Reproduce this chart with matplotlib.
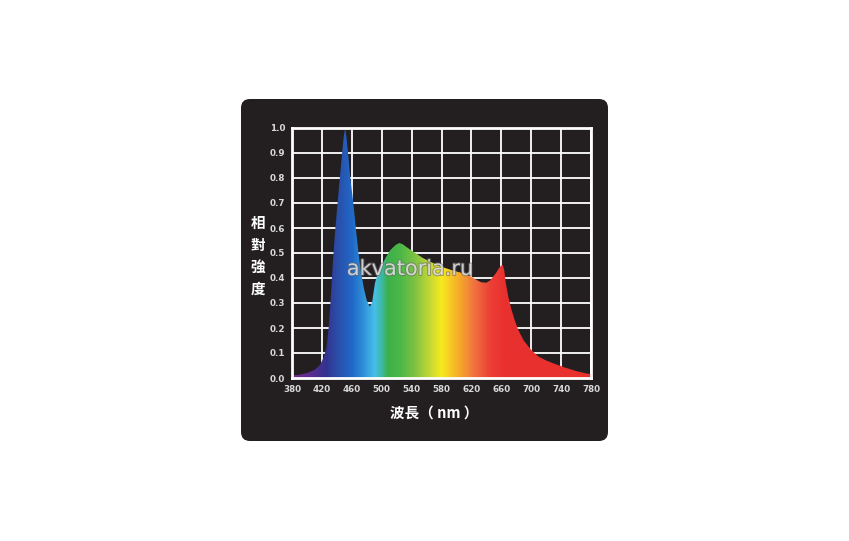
import numpy as np
import matplotlib
matplotlib.use("Agg")
import matplotlib.pyplot as plt
from matplotlib.patches import FancyBboxPatch, Polygon
from matplotlib.colors import LinearSegmentedColormap
import matplotlib.patheffects as pe

# spectrum
wavelength = [380, 390, 400, 410, 417, 422, 426, 429, 431, 433, 435, 438, 441, 444, 447, 449,
              451, 453, 455, 458, 462, 466, 469, 472, 476, 480, 484, 487, 489, 491, 495, 500,
              506, 511, 516, 520, 524, 528, 535, 545, 555, 565, 580, 595, 609, 620, 627, 633,
              640, 645, 649, 653, 657, 660, 662, 664, 666, 669, 673, 678, 683, 690, 700, 710,
              720, 730, 745, 760, 774, 780]
intensity = [0.01, 0.013, 0.02, 0.032, 0.05, 0.08, 0.12, 0.2, 0.28, 0.38, 0.48, 0.6, 0.7, 0.8, 0.9, 0.96,
             1.0, 0.96, 0.9, 0.8, 0.7, 0.58, 0.5, 0.43, 0.36, 0.31, 0.285, 0.3, 0.34, 0.38, 0.42, 0.45,
             0.485, 0.51, 0.525, 0.535, 0.54, 0.535, 0.52, 0.5, 0.48, 0.465, 0.445, 0.43, 0.419, 0.405, 0.392, 0.383,
             0.381, 0.39, 0.405, 0.42, 0.44, 0.45, 0.452, 0.43, 0.38, 0.33, 0.28, 0.23, 0.19, 0.15, 0.112, 0.085,
             0.07, 0.058, 0.042, 0.028, 0.018, 0.015]

x_ticks = [380, 420, 460, 500, 540, 580, 620, 660, 700, 740, 780]
y_ticks = [0.0, 0.1, 0.2, 0.3, 0.4, 0.5, 0.6, 0.7, 0.8, 0.9, 1.0]

# colour stops of the spectral fill (nm, colour)
color_stops = [(380, '#7a2c8c'), (405, '#5a2d90'), (425, '#33328f'), (440, '#2a4ea8'),
               (460, '#2068c8'), (475, '#2f90d8'), (490, '#45c0ea'), (500, '#3cb8a0'),
               (508, '#3cb04a'), (525, '#4cb848'), (545, '#80c342'), (562, '#bcd636'),
               (580, '#f6ea1e'), (595, '#f7c125'), (610, '#f39a30'), (625, '#f07040'),
               (645, '#ec4035'), (665, '#e9302f'), (780, '#e8302e')]

panel = '#231f20'
tick_col = '#d8d8d8'

fig = plt.figure(figsize=(8.49, 5.41), dpi=100)

# black rounded panel, drawn in pixel units
bg = fig.add_axes([0, 0, 1, 1])
bg.set_xlim(0, 849)
bg.set_ylim(541, 0)
bg.axis('off')
bg.add_patch(FancyBboxPatch((241, 99), 367, 342, boxstyle='round,pad=0,rounding_size=9',
                            facecolor=panel, edgecolor='none'))

ax = fig.add_axes([292 / 849, 1 - 378 / 541, 299 / 849, 250 / 541])
ax.set_facecolor('none')
ax.set_xlim(380, 780)
ax.set_ylim(0, 1.0)
ax.set_xticks(x_ticks)
ax.set_yticks(y_ticks)
ax.set_xticklabels([str(t) for t in x_ticks])
ax.set_yticklabels([f'{t:.1f}' for t in y_ticks])
ax.tick_params(length=0, colors=tick_col, labelsize=6.3, pad=5)
for lab in ax.get_xticklabels() + ax.get_yticklabels():
    lab.set_fontweight('bold')
ax.grid(True, color='white', linewidth=1.3)
ax.set_axisbelow(True)
for s in ax.spines.values():
    s.set_color('white')
    s.set_linewidth(2)
    s.set_zorder(5)

# gradient clipped to the spectrum outline
cmap = LinearSegmentedColormap.from_list(
    'spec', [((w - 380) / 400, c) for w, c in color_stops])
grad = np.linspace(380, 780, 800).reshape(1, -1)
im = ax.imshow(grad, extent=[380, 780, 0, 1], aspect='auto', cmap=cmap,
               vmin=380, vmax=780, zorder=3, interpolation='bilinear')
verts = list(zip(wavelength, intensity)) + [(780, 0), (380, 0)]
outline = Polygon(verts, closed=True, facecolor='none', edgecolor='none', transform=ax.transData)
ax.add_patch(outline)
im.set_clip_path(outline)

# axis titles
cjk = ['Noto Sans CJK TC', 'DejaVu Sans']
for ch, yp in zip('相對強度', [223, 245, 267, 289]):
    bg.text(258, yp, ch, ha='center', va='center', color='white', fontsize=10.5,
            fontweight='bold', family=cjk)
bg.text(434, 413, '波長（ nm ）', ha='center', va='center', color='white', fontsize=10.5,
        fontweight='bold', family=cjk)

# watermark on top of everything
fig.text(410 / 849, 1 - 269 / 541, 'akvatoria.ru', ha='center', va='center', fontsize=15,
         color='white', alpha=0.6, zorder=10,
         path_effects=[pe.withStroke(linewidth=1.5, foreground='#6a6a6a')])

fig.savefig('out.png', dpi=100, facecolor='white')
